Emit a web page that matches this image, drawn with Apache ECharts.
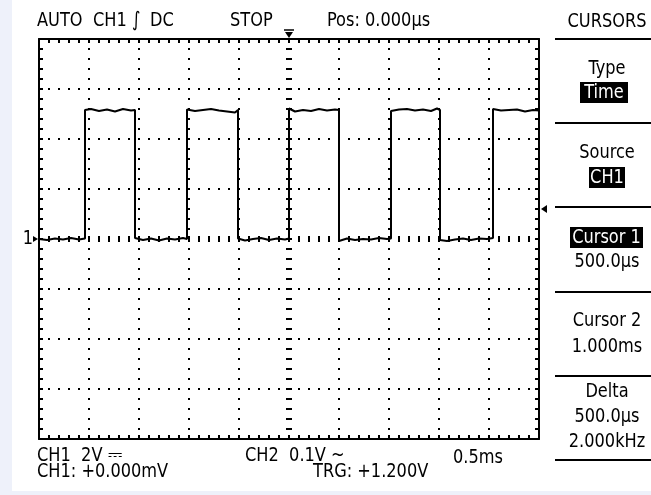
<!DOCTYPE html>
<html>
<head>
<meta charset="utf-8">
<script src="https://cdn.jsdelivr.net/npm/echarts@6/dist/echarts.min.js"></script>
<style>
html,body{margin:0;padding:0;background:#fff;}
#c{width:651px;height:495px;}
</style>
</head>
<body>
<div id="c"></div>
<script>
// ---- scale settings (0.5 ms/div x 10 div, 2 V/div x 8 div) ----
const timeRangeMs = [-2.5, 2.5];
const timePerDivMs = 0.5;
const voltRange = [-8, 8];
const voltPerDiv = 2;
const triggerPosMs = 0;
const triggerLevelV = 1.2;
const groundLevelV = 0;

// ---- CH1 trace ----
const timeMs = [
  -2.50,-2.42,-2.34,-2.26,-2.18,-2.10,-2.04,
  -2.04,-1.98,-1.90,-1.82,-1.74,-1.66,-1.58,-1.54,
  -1.54,-1.46,-1.38,-1.30,-1.22,-1.14,-1.06,-1.02,
  -1.02,-0.94,-0.86,-0.78,-0.70,-0.62,-0.54,-0.51,
  -0.51,-0.44,-0.36,-0.28,-0.20,-0.12,-0.04,0.00,
  0.00,0.06,0.14,0.22,0.30,0.38,0.46,0.50,
  0.50,0.58,0.66,0.74,0.82,0.90,0.98,1.02,
  1.02,1.10,1.18,1.26,1.34,1.42,1.48,1.51,
  1.51,1.58,1.66,1.74,1.82,1.90,1.98,2.04,
  2.04,2.12,2.20,2.28,2.36,2.44,2.50
];
const volts = [
  0.00,-0.04,0.02,-0.02,0.04,-0.02,0.02,
  5.16,5.20,5.12,5.18,5.10,5.20,5.14,5.16,
  0.04,-0.04,0.02,-0.06,0.02,-0.02,0.04,0.00,
  5.18,5.12,5.16,5.20,5.14,5.10,5.06,5.16,
  0.02,-0.06,0.00,0.04,-0.04,0.02,-0.02,0.02,
  5.22,5.10,5.16,5.12,5.20,5.14,5.18,5.16,
  -0.08,0.02,-0.04,0.00,-0.02,0.04,0.00,0.02,
  5.12,5.18,5.20,5.14,5.18,5.12,5.22,5.16,
  -0.04,-0.08,-0.02,0.02,-0.04,0.02,0.00,0.04,
  5.20,5.14,5.16,5.18,5.10,5.16,5.14
];

// ---- screen texts ----
const headerTexts = ['AUTO', 'CH1', '\u222B', 'DC', 'STOP', 'Pos: 0.000\u00B5s'];
const footerTexts = ['CH1  2V \u2393', 'CH1: +0.000mV', 'CH2  0.1V ~', 'TRG: +1.200V', '0.5ms'];
const menuTitle = 'CURSORS';
const menuItems = [
  {label: 'Type', value: 'Time'},
  {label: 'Source', value: 'CH1'},
  {label: 'Cursor 1', value: '500.0\u00B5s'},
  {label: 'Cursor 2', value: '1.000ms'},
  {label: 'Delta', value: '500.0\u00B5s', extra: '2.000kHz'}
];
const groundMarkerText = '1';

const FONT_FAMILY = '"DejaVu Sans Condensed","Liberation Sans Narrow","DejaVu Sans",sans-serif';
const FONT = '18px ' + FONT_FAMILY;

const seriesData = timeMs.map((t, i) => [t, volts[i]]);
const minorX = timePerDivMs / 5;
const minorY = voltPerDiv / 5;

function baseX(extra) {
  return Object.assign({
    type: 'value', min: timeRangeMs[0], max: timeRangeMs[1], gridIndex: 0,
    axisLabel: {show: false}, splitLine: {show: false}
  }, extra);
}
function baseY(extra) {
  return Object.assign({
    type: 'value', min: voltRange[0], max: voltRange[1], gridIndex: 0,
    axisLabel: {show: false}, splitLine: {show: false}
  }, extra);
}
const black = {color: '#000', width: 2};
const dotted = {color: '#000', width: 2, type: [2, 8], dashOffset: 1};

const chart = echarts.init(document.getElementById('c'), null, {renderer: 'canvas'});

function txt(s, x, y, align, fill) {
  return {
    type: 'text', x: x, y: y, z: 10, scaleY: 1.12,
    style: {text: s, font: FONT, fill: fill || '#000',
      align: align || 'left', verticalAlign: 'middle',
      textAlign: align || 'left', textVerticalAlign: 'middle'}
  };
}
function rect(x, y, w, h, fill) {
  return {type: 'rect', shape: {x: x, y: y, width: w, height: h}, style: {fill: fill}, z: 5};
}
function hline(x1, x2, y) {
  return {type: 'line', shape: {x1: x1, y1: y, x2: x2, y2: y}, style: {stroke: '#000', lineWidth: 2}, z: 5};
}

const option = {
  backgroundColor: '#fff',
  animation: false,
  grid: {left: 39, top: 39, width: 500, height: 400, containLabel: false},
  xAxis: [
    baseX({interval: timePerDivMs, axisLine: {show: false, onZero: false}, axisTick: {show: false},
      splitLine: {show: true, lineStyle: dotted}}),
    baseX({position: 'top', interval: minorX, axisLine: {show: true, onZero: false, lineStyle: black},
      axisTick: {show: true, inside: true, length: 4, lineStyle: black}}),
    baseX({position: 'bottom', interval: minorX, axisLine: {show: true, onZero: false, lineStyle: black},
      axisTick: {show: true, inside: true, length: 4, lineStyle: black}}),
    baseX({position: 'bottom', interval: minorX, axisLine: {show: false, onZero: true, onZeroAxisIndex: 0},
      axisTick: {show: true, inside: true, length: 3, lineStyle: black}}),
    baseX({position: 'bottom', interval: minorX, axisLine: {show: false, onZero: true, onZeroAxisIndex: 0},
      axisTick: {show: true, inside: false, length: 3, lineStyle: black}})
  ],
  yAxis: [
    baseY({interval: voltPerDiv, axisLine: {show: false, onZero: false}, axisTick: {show: false},
      splitLine: {show: true, lineStyle: dotted}}),
    baseY({position: 'left', interval: minorY, axisLine: {show: true, onZero: false, lineStyle: black},
      axisTick: {show: true, inside: true, length: 4, lineStyle: black}}),
    baseY({position: 'right', interval: minorY, axisLine: {show: true, onZero: false, lineStyle: black},
      axisTick: {show: true, inside: true, length: 4, lineStyle: black}}),
    baseY({position: 'left', interval: minorY, axisLine: {show: false, onZero: true, onZeroAxisIndex: 0},
      axisTick: {show: true, inside: true, length: 3, lineStyle: black}}),
    baseY({position: 'left', interval: minorY, axisLine: {show: false, onZero: true, onZeroAxisIndex: 0},
      axisTick: {show: true, inside: false, length: 3, lineStyle: black}})
  ],
  series: [{
    type: 'line', xAxisIndex: 0, yAxisIndex: 0, data: seriesData,
    showSymbol: false, symbol: 'none', smooth: false,
    lineStyle: {color: '#000', width: 2}, z: 20, clip: true
  }]
};
chart.setOption(option);

// ---- overlay: texts, menu panel, markers ----
const g = [];
g.push(rect(0, 0, 12, 495, '#eef1fa'));
g.push(rect(0, 491, 651, 4, '#eef1fa'));

// header
g.push(txt(headerTexts[0], 37, 21));
g.push(txt(headerTexts[1], 93, 21));
g.push(txt(headerTexts[2], 132, 21));
g.push(txt(headerTexts[3], 150, 21));
g.push(txt(headerTexts[4], 230, 21));
g.push(txt(headerTexts[5], 327, 21));
// footer
g.push(txt(footerTexts[0], 37, 456));
g.push(txt(footerTexts[1], 37, 472));
g.push(txt(footerTexts[2], 245, 456));
g.push(txt(footerTexts[3], 313, 472));
g.push(txt(footerTexts[4], 453, 458));

// menu panel
const cx = 607;
g.push(txt(menuTitle, cx, 22, 'center'));
[39, 123, 207, 292, 376, 460].forEach(y => g.push(hline(555, 651, y)));
g.push(txt(menuItems[0].label, cx, 69, 'center'));
g.push(rect(580, 82, 48, 21, '#000'));
g.push(txt(menuItems[0].value, 604, 92.5, 'center', '#fff'));
g.push(txt(menuItems[1].label, cx, 153, 'center'));
g.push(rect(589, 167, 36, 21, '#000'));
g.push(txt(menuItems[1].value, cx, 177.5, 'center', '#fff'));
g.push(rect(570, 227, 73, 21, '#000'));
g.push(txt(menuItems[2].label, 606.5, 237.5, 'center', '#fff'));
g.push(txt(menuItems[2].value, cx, 262, 'center'));
g.push(txt(menuItems[3].label, cx, 321, 'center'));
g.push(txt(menuItems[3].value, cx, 347, 'center'));
g.push(txt(menuItems[4].label, cx, 392, 'center'));
g.push(txt(menuItems[4].value, cx, 417, 'center'));
g.push(txt(menuItems[4].extra, cx, 442, 'center'));

// markers placed through the axes' scales
const trigPos = chart.convertToPixel({xAxisIndex: 0, yAxisIndex: 0}, [triggerPosMs, voltRange[1]]);
g.push({type: 'polygon', shape: {points: [[trigPos[0] - 4, trigPos[1] - 7], [trigPos[0] + 4, trigPos[1] - 7], [trigPos[0], trigPos[1] - 1]]},
  style: {fill: '#000'}, z: 10});
g.push({type: 'line', shape: {x1: trigPos[0] - 5, y1: trigPos[1] - 9, x2: trigPos[0] + 5, y2: trigPos[1] - 9},
  style: {stroke: '#000', lineWidth: 1.5}, z: 10});

const trigLvl = chart.convertToPixel({xAxisIndex: 0, yAxisIndex: 0}, [timeRangeMs[1], triggerLevelV]);
g.push({type: 'polygon', shape: {points: [[trigLvl[0] + 2, trigLvl[1]], [trigLvl[0] + 8, trigLvl[1] - 4], [trigLvl[0] + 8, trigLvl[1] + 4]]},
  style: {fill: '#000'}, z: 10});

const gnd = chart.convertToPixel({xAxisIndex: 0, yAxisIndex: 0}, [timeRangeMs[0], groundLevelV]);
g.push(txt(groundMarkerText, gnd[0] - 6, gnd[1], 'right'));
g.push({type: 'polygon', shape: {points: [[gnd[0] - 6, gnd[1] - 3], [gnd[0] - 6, gnd[1] + 3], [gnd[0] - 1, gnd[1]]]},
  style: {fill: '#000'}, z: 10});

chart.setOption({graphic: {elements: g}});
</script>
</body>
</html>
